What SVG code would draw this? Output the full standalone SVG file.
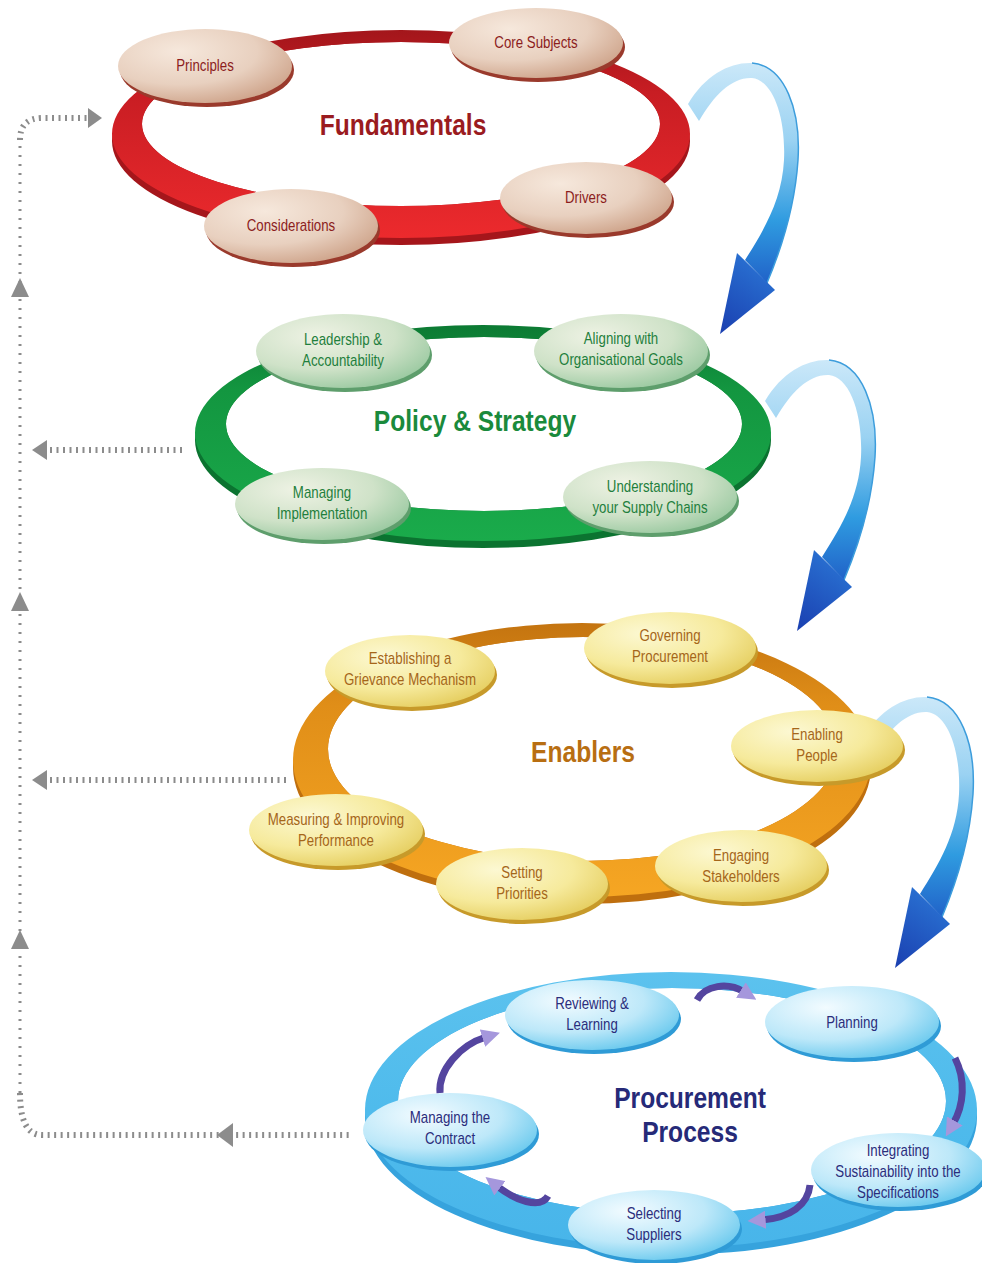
<svg xmlns="http://www.w3.org/2000/svg" width="982" height="1263" viewBox="0 0 982 1263">
<style>
.nt{font-family:"Liberation Sans","DejaVu Sans",sans-serif;font-size:16px;text-anchor:middle}
.tt{font-family:"Liberation Sans","DejaVu Sans",sans-serif;font-size:30px;font-weight:bold;text-anchor:middle}
.red .rim{fill:#9a3a2c}.red .face{fill:url(#fRed)}.red text{fill:#8c1d1d}
.grn .rim{fill:#5e9e6c}.grn .face{fill:url(#fGrn)}.grn text{fill:#1f7f3d}
.org .rim{fill:#c79a2a}.org .face{fill:url(#fOrg)}.org text{fill:#a5661a}
.blu .rim{fill:#2f9bd6}.blu .face{fill:url(#fBlu)}.blu text{fill:#2b2d7c}
.dotv{fill:none;stroke:#8c8c8c;stroke-width:3;stroke-dasharray:2 7}
.doth{fill:none;stroke:#8c8c8c;stroke-width:6;stroke-dasharray:2 4.5}
.gh{fill:#8c8c8c}
.pa{fill:none;stroke:#54459f;stroke-width:7;marker-end:url(#ph)}
</style>
<defs>
<radialGradient id="fRed" cx="0.35" cy="0.3" r="0.75"><stop offset="0" stop-color="#f6e8dc"/><stop offset="0.6" stop-color="#e8d0bf"/><stop offset="1" stop-color="#cfa58c"/></radialGradient>
<radialGradient id="fGrn" cx="0.35" cy="0.3" r="0.75"><stop offset="0" stop-color="#eef2e4"/><stop offset="0.6" stop-color="#cfe2c8"/><stop offset="1" stop-color="#9ccaa2"/></radialGradient>
<radialGradient id="fOrg" cx="0.35" cy="0.3" r="0.75"><stop offset="0" stop-color="#fcf8d2"/><stop offset="0.6" stop-color="#f6ea9c"/><stop offset="1" stop-color="#e6cf62"/></radialGradient>
<radialGradient id="fBlu" cx="0.35" cy="0.3" r="0.75"><stop offset="0" stop-color="#f2fbff"/><stop offset="0.6" stop-color="#bde8f9"/><stop offset="1" stop-color="#6ccaee"/></radialGradient>
<linearGradient id="rRed" x1="0" y1="0" x2="0" y2="1"><stop offset="0" stop-color="#a3161b"/><stop offset="0.3" stop-color="#c81d23"/><stop offset="1" stop-color="#ec2a2d"/></linearGradient>
<linearGradient id="rGrn" x1="0" y1="0" x2="0" y2="1"><stop offset="0" stop-color="#0c7a33"/><stop offset="0.3" stop-color="#139640"/><stop offset="1" stop-color="#1aab4b"/></linearGradient>
<linearGradient id="rOrg" x1="0" y1="0" x2="0" y2="1"><stop offset="0" stop-color="#c47410"/><stop offset="0.3" stop-color="#e08e18"/><stop offset="1" stop-color="#f6a623"/></linearGradient>
<linearGradient id="rBlu" x1="0" y1="0" x2="0" y2="1"><stop offset="0" stop-color="#5cc2ee"/><stop offset="0.5" stop-color="#4fbbec"/><stop offset="1" stop-color="#48b5ea"/></linearGradient>
<linearGradient id="bandG" gradientUnits="userSpaceOnUse" x1="0" y1="60" x2="0" y2="290"><stop offset="0" stop-color="#cde9f9"/><stop offset="0.35" stop-color="#9ad2f2"/><stop offset="0.7" stop-color="#2f9be0"/><stop offset="1" stop-color="#1f5cc6"/></linearGradient>
<linearGradient id="headG" gradientUnits="userSpaceOnUse" x1="775" y1="255" x2="720" y2="334"><stop offset="0" stop-color="#2c7ad8"/><stop offset="1" stop-color="#1a3fb0"/></linearGradient>
<marker id="ph" viewBox="0 0 10 10" refX="2" refY="5" markerWidth="2.6" markerHeight="2.6" orient="auto"><path d="M0,0 L10,5 L0,10 Z" fill="#a597dc"/></marker>
<g id="bigArrow">
<path d="M688,104 C705,75 730,62 752,63 C785,66 801,110 798,160 C795,205 783,245 767,283 L745,260 C764,230 782,200 784,160 C786,115 772,80 752,78 C732,77 714,95 699,121 Z" fill="url(#bandG)"/>
<path d="M752,63 C785,66 801,110 798,160 C795,205 783,245 767,283" fill="none" stroke="#3d9ddc" stroke-width="1.5"/>
<polygon points="737,253 775,290 720,334" fill="url(#headG)"/>
</g>
</defs>
<rect width="982" height="1263" fill="#ffffff"/>

<g id="connectors">
<path class="dotv" d="M20,1093 V140"/>
<path class="doth" d="M20,140 Q20,118 42,118 H90"/>
<path class="doth" d="M20,1093 Q20,1135 42,1135 H353"/>
<path class="doth" d="M50,450 H183"/>
<path class="doth" d="M50,780 H290"/>
<polygon class="gh" points="102,118 88,108 88,128"/>
<polygon class="gh" points="20,278 11,297 29,297"/>
<polygon class="gh" points="20,592 11,611 29,611"/>
<polygon class="gh" points="20,930 11,949 29,949"/>
<polygon class="gh" points="32,450 47,440 47,460"/>
<polygon class="gh" points="32,780 47,770 47,790"/>
<polygon class="gh" points="217,1135 233,1123 233,1147"/>
<use href="#bigArrow"/>
<use href="#bigArrow" transform="translate(77,297)"/>
<use href="#bigArrow" transform="translate(175,634)"/>
</g>

<g id="fundamentals">
<path d="M112,141 a289,104 0 1,0 578,0 a289,104 0 1,0 -578,0 Z M142,124 a259,82 0 1,0 518,0 a259,82 0 1,0 -518,0 Z" fill="#a5161b" fill-rule="evenodd"/>
<path d="M112,134 a289,104 0 1,0 578,0 a289,104 0 1,0 -578,0 Z M142,124 a259,82 0 1,0 518,0 a259,82 0 1,0 -518,0 Z" fill="url(#rRed)" fill-rule="evenodd"/>
<text class="tt" fill="#9a1b1f" transform="translate(403,135) scale(0.82,1)">Fundamentals</text>
</g>
<g id="n-principles" class="red"><ellipse class="rim" cx="207" cy="70" rx="87" ry="37"/><ellipse class="face" cx="205" cy="66" rx="87" ry="37"/><text class="nt" transform="translate(205,71) scale(0.83,1)">Principles</text></g>
<g id="n-core" class="red"><ellipse class="rim" cx="538" cy="47" rx="87" ry="35"/><ellipse class="face" cx="536" cy="43" rx="87" ry="35"/><text class="nt" transform="translate(536,48) scale(0.83,1)">Core Subjects</text></g>
<g id="n-drivers" class="red"><ellipse class="rim" cx="588" cy="202" rx="86" ry="36"/><ellipse class="face" cx="586" cy="198" rx="86" ry="36"/><text class="nt" transform="translate(586,203) scale(0.83,1)">Drivers</text></g>
<g id="n-considerations" class="red"><ellipse class="rim" cx="293" cy="230" rx="87" ry="37"/><ellipse class="face" cx="291" cy="226" rx="87" ry="37"/><text class="nt" transform="translate(291,231) scale(0.83,1)">Considerations</text></g>

<g id="policy">
<path d="M195,440 a288,108 0 1,0 576,0 a288,108 0 1,0 -576,0 Z M226,424 a258,87 0 1,0 516,0 a258,87 0 1,0 -516,0 Z" fill="#0b7330" fill-rule="evenodd"/>
<path d="M195,433 a288,108 0 1,0 576,0 a288,108 0 1,0 -576,0 Z M226,424 a258,87 0 1,0 516,0 a258,87 0 1,0 -516,0 Z" fill="url(#rGrn)" fill-rule="evenodd"/>
<text class="tt" fill="#1a8a3c" transform="translate(475,431) scale(0.82,1)">Policy &amp; Strategy</text>
</g>
<g id="n-leadership" class="grn"><ellipse class="rim" cx="345" cy="355" rx="87" ry="37"/><ellipse class="face" cx="343" cy="351" rx="87" ry="37"/><text class="nt" transform="translate(343,345) scale(0.83,1)"><tspan x="0">Leadership &amp;</tspan><tspan x="0" dy="21">Accountability</tspan></text></g>
<g id="n-aligning" class="grn"><ellipse class="rim" cx="623" cy="355" rx="87" ry="37"/><ellipse class="face" cx="621" cy="351" rx="87" ry="37"/><text class="nt" transform="translate(621,344) scale(0.83,1)"><tspan x="0">Aligning with</tspan><tspan x="0" dy="21">Organisational Goals</tspan></text></g>
<g id="n-managing-impl" class="grn"><ellipse class="rim" cx="324" cy="508" rx="87" ry="36"/><ellipse class="face" cx="322" cy="504" rx="87" ry="36"/><text class="nt" transform="translate(322,498) scale(0.83,1)"><tspan x="0">Managing</tspan><tspan x="0" dy="21">Implementation</tspan></text></g>
<g id="n-supply" class="grn"><ellipse class="rim" cx="652" cy="501" rx="87" ry="36"/><ellipse class="face" cx="650" cy="497" rx="87" ry="36"/><text class="nt" transform="translate(650,492) scale(0.83,1)"><tspan x="0">Understanding</tspan><tspan x="0" dy="21">your Supply Chains</tspan></text></g>

<g id="enablers">
<path d="M293,767 a289,137 0 1,0 578,0 a289,137 0 1,0 -578,0 Z M328,749 a255,112 0 1,0 510,0 a255,112 0 1,0 -510,0 Z" fill="#bf6f0e" fill-rule="evenodd"/>
<path d="M293,760 a289,137 0 1,0 578,0 a289,137 0 1,0 -578,0 Z M328,749 a255,112 0 1,0 510,0 a255,112 0 1,0 -510,0 Z" fill="url(#rOrg)" fill-rule="evenodd"/>
<text class="tt" fill="#b86e12" transform="translate(583,762) scale(0.82,1)">Enablers</text>
</g>
<g id="n-grievance" class="org"><ellipse class="rim" cx="412" cy="675" rx="85" ry="36"/><ellipse class="face" cx="410" cy="671" rx="85" ry="36"/><text class="nt" transform="translate(410,664) scale(0.83,1)"><tspan x="0">Establishing a</tspan><tspan x="0" dy="21">Grievance  Mechanism</tspan></text></g>
<g id="n-governing" class="org"><ellipse class="rim" cx="672" cy="652" rx="86" ry="36"/><ellipse class="face" cx="670" cy="648" rx="86" ry="36"/><text class="nt" transform="translate(670,641) scale(0.83,1)"><tspan x="0">Governing</tspan><tspan x="0" dy="21">Procurement</tspan></text></g>
<g id="n-enabling" class="org"><ellipse class="rim" cx="819" cy="750" rx="86" ry="36"/><ellipse class="face" cx="817" cy="746" rx="86" ry="36"/><text class="nt" transform="translate(817,740) scale(0.83,1)"><tspan x="0">Enabling</tspan><tspan x="0" dy="21">People</tspan></text></g>
<g id="n-measuring" class="org"><ellipse class="rim" cx="338" cy="834" rx="87" ry="36"/><ellipse class="face" cx="336" cy="830" rx="87" ry="36"/><text class="nt" transform="translate(336,825) scale(0.83,1)"><tspan x="0">Measuring &amp; Improving</tspan><tspan x="0" dy="21">Performance</tspan></text></g>
<g id="n-setting" class="org"><ellipse class="rim" cx="524" cy="888" rx="86" ry="36"/><ellipse class="face" cx="522" cy="884" rx="86" ry="36"/><text class="nt" transform="translate(522,878) scale(0.83,1)"><tspan x="0">Setting</tspan><tspan x="0" dy="21">Priorities</tspan></text></g>
<g id="n-engaging" class="org"><ellipse class="rim" cx="743" cy="870" rx="86" ry="36"/><ellipse class="face" cx="741" cy="866" rx="86" ry="36"/><text class="nt" transform="translate(741,861) scale(0.83,1)"><tspan x="0">Engaging</tspan><tspan x="0" dy="21">Stakeholders</tspan></text></g>

<g id="procurement">
<path d="M365,1117 a306,138 0 1,0 612,0 a306,138 0 1,0 -612,0 Z M398,1101 a274,113 0 1,0 548,0 a274,113 0 1,0 -548,0 Z" fill="#36a3dd" fill-rule="evenodd"/>
<path d="M365,1110 a306,138 0 1,0 612,0 a306,138 0 1,0 -612,0 Z M398,1101 a274,113 0 1,0 548,0 a274,113 0 1,0 -548,0 Z" fill="url(#rBlu)" fill-rule="evenodd"/>
<text class="tt" fill="#262a78" transform="translate(690,1108) scale(0.82,1)"><tspan x="0">Procurement</tspan><tspan x="0" dy="34">Process</tspan></text>
</g>
<g id="n-reviewing" class="blu"><ellipse class="rim" cx="594" cy="1019" rx="87" ry="35"/><ellipse class="face" cx="592" cy="1015" rx="87" ry="35"/><text class="nt" transform="translate(592,1009) scale(0.83,1)"><tspan x="0">Reviewing &amp;</tspan><tspan x="0" dy="21">Learning</tspan></text></g>
<g id="n-planning" class="blu"><ellipse class="rim" cx="854" cy="1026" rx="87" ry="36"/><ellipse class="face" cx="852" cy="1022" rx="87" ry="36"/><text class="nt" transform="translate(852,1028) scale(0.83,1)">Planning</text></g>
<g id="n-integrating" class="blu"><ellipse class="rim" cx="900" cy="1174" rx="87" ry="37"/><ellipse class="face" cx="898" cy="1170" rx="87" ry="37"/><text class="nt" transform="translate(898,1156) scale(0.83,1)"><tspan x="0">Integrating</tspan><tspan x="0" dy="21">Sustainability into the</tspan><tspan x="0" dy="21">Specifications</tspan></text></g>
<g id="n-selecting" class="blu"><ellipse class="rim" cx="656" cy="1229" rx="86" ry="35"/><ellipse class="face" cx="654" cy="1225" rx="86" ry="35"/><text class="nt" transform="translate(654,1219) scale(0.83,1)"><tspan x="0">Selecting</tspan><tspan x="0" dy="21">Suppliers</tspan></text></g>
<g id="n-contract" class="blu"><ellipse class="rim" cx="452" cy="1134" rx="87" ry="37"/><ellipse class="face" cx="450" cy="1130" rx="87" ry="37"/><text class="nt" transform="translate(450,1123) scale(0.83,1)"><tspan x="0">Managing the</tspan><tspan x="0" dy="21">Contract</tspan></text></g>

<g id="cycle-connectors">
<path class="pa" d="M697,1000 C705,985 728,982 744,992"/>
<path class="pa" d="M955,1058 C966,1080 964,1105 953,1124"/>
<path class="pa" d="M810,1185 C808,1205 790,1218 762,1220"/>
<path class="pa" d="M548,1196 C540,1210 515,1200 497,1186"/>
<path class="pa" d="M440,1093 C438,1070 460,1045 486,1037"/>
</g>
</svg>
